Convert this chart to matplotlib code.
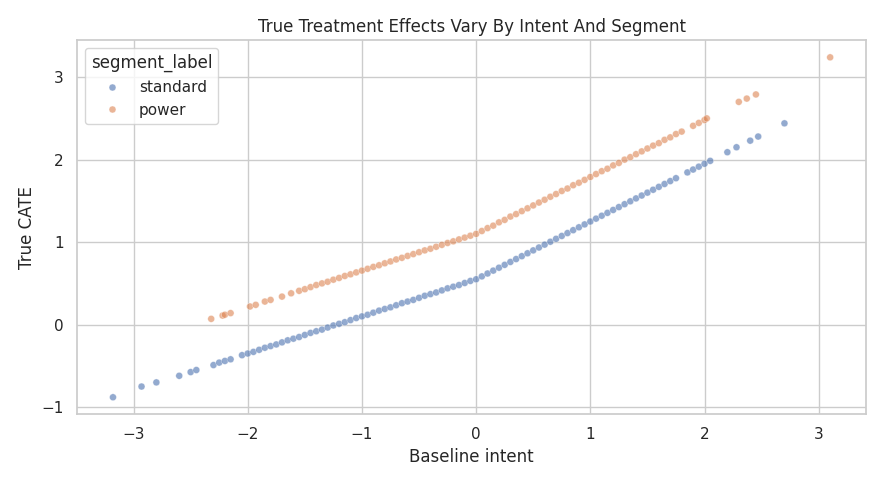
import matplotlib
matplotlib.use("Agg")
import matplotlib.pyplot as plt
import seaborn as sns
import pandas as pd

# standard segment: baseline intent vs true CATE
std_x = [-3.18, -2.93, -2.80, -2.60, -2.50, -2.45, -2.30, -2.25, -2.20, -2.15, -2.05, -2.00, -1.95, -1.90, -1.85,
         -1.80, -1.75, -1.70, -1.65, -1.60, -1.55, -1.50, -1.45, -1.40, -1.35, -1.30, -1.25, -1.20, -1.15, -1.10,
         -1.05, -1.00, -0.95, -0.90, -0.85, -0.80, -0.75, -0.70, -0.65, -0.60, -0.55, -0.50, -0.45, -0.40, -0.35,
         -0.30, -0.25, -0.20, -0.15, -0.10, -0.05,
         0.00, 0.05, 0.10, 0.15, 0.20, 0.25, 0.30, 0.35, 0.40, 0.45, 0.50, 0.55, 0.60, 0.65, 0.70, 0.75, 0.80,
         0.85, 0.90, 0.95, 1.00, 1.05, 1.10, 1.15, 1.20, 1.25, 1.30, 1.35, 1.40, 1.45, 1.50, 1.55, 1.60, 1.65,
         1.70, 1.75, 1.85, 1.90, 1.95, 2.00, 2.05, 2.20, 2.28, 2.40, 2.47, 2.70]
std_y = [-0.88, -0.75, -0.70, -0.62, -0.575, -0.55, -0.49, -0.46, -0.44, -0.42, -0.37, -0.35, -0.33, -0.305, -0.28,
         -0.26, -0.24, -0.215, -0.19, -0.17, -0.15, -0.125, -0.10, -0.08, -0.06, -0.035, -0.01, 0.01, 0.03, 0.055,
         0.08, 0.10, 0.12, 0.145, 0.17, 0.19, 0.21, 0.235, 0.26, 0.28, 0.30, 0.325, 0.35, 0.37, 0.39,
         0.415, 0.44, 0.46, 0.48, 0.505, 0.53,
         0.55, 0.585, 0.62, 0.655, 0.69, 0.725, 0.76, 0.795, 0.83, 0.865, 0.90, 0.935, 0.97, 1.005, 1.04, 1.075, 1.11,
         1.145, 1.18, 1.215, 1.25, 1.285, 1.32, 1.355, 1.39, 1.425, 1.46, 1.495, 1.53, 1.565, 1.60, 1.635, 1.67, 1.705,
         1.74, 1.775, 1.845, 1.88, 1.915, 1.95, 1.985, 2.09, 2.15, 2.23, 2.28, 2.44]

# power segment
pow_x = [-2.32, -2.22, -2.20, -2.15, -1.98, -1.93, -1.85, -1.80, -1.70, -1.62,
         -1.55, -1.50, -1.45, -1.40, -1.35, -1.30, -1.25, -1.20, -1.15, -1.10, -1.05, -1.00, -0.95, -0.90, -0.85,
         -0.80, -0.75, -0.70, -0.65, -0.60, -0.55, -0.50, -0.45, -0.40, -0.35, -0.30, -0.25, -0.20, -0.15, -0.10, -0.05,
         0.00, 0.05, 0.10, 0.15, 0.20, 0.25, 0.30, 0.35, 0.40, 0.45, 0.50, 0.55, 0.60, 0.65, 0.70, 0.75, 0.80,
         0.85, 0.90, 0.95, 1.00, 1.05, 1.10, 1.15, 1.20, 1.25, 1.30, 1.35, 1.40, 1.45, 1.50, 1.55, 1.60, 1.65,
         1.70, 1.75, 1.80, 1.90, 1.95, 2.00, 2.02, 2.30, 2.37, 2.45, 3.10]
pow_y = [0.07, 0.11, 0.12, 0.14, 0.22, 0.24, 0.28, 0.30, 0.34, 0.38,
         0.41, 0.43, 0.455, 0.48, 0.50, 0.52, 0.545, 0.566, 0.59, 0.61, 0.633, 0.655, 0.677, 0.70, 0.72,
         0.744, 0.766, 0.79, 0.81, 0.833, 0.855, 0.878, 0.90, 0.92, 0.944, 0.967, 0.99, 1.01, 1.033, 1.055, 1.078,
         1.10, 1.135, 1.17, 1.20, 1.24, 1.27, 1.31, 1.34, 1.376, 1.41, 1.445, 1.48, 1.514, 1.55, 1.583, 1.62, 1.65,
         1.69, 1.72, 1.755, 1.79, 1.825, 1.86, 1.89, 1.93, 1.96, 2.00, 2.03, 2.066, 2.10, 2.135, 2.17, 2.20, 2.24,
         2.27, 2.31, 2.34, 2.41, 2.445, 2.48, 2.50, 2.70, 2.74, 2.79, 3.24]

df = pd.concat([
    pd.DataFrame({"baseline_intent": std_x, "true_cate": std_y, "segment_label": "standard"}),
    pd.DataFrame({"baseline_intent": pow_x, "true_cate": pow_y, "segment_label": "power"}),
])

sns.set_theme(style="whitegrid")
fig, ax = plt.subplots(figsize=(8.84, 4.84), dpi=100)
sns.scatterplot(data=df, x="baseline_intent", y="true_cate", hue="segment_label",
                alpha=0.6, s=25, ax=ax)
ax.set_title("True Treatment Effects Vary By Intent And Segment")
ax.set_xlabel("Baseline intent")
ax.set_ylabel("True CATE")
plt.tight_layout()
plt.savefig("out.png")
